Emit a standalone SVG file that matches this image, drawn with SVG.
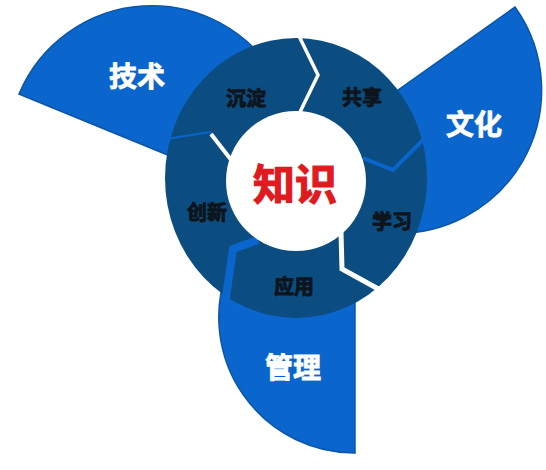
<svg xmlns="http://www.w3.org/2000/svg" width="546" height="470" viewBox="0 0 546 470">
<style>
.blade{fill:#0a66cc;stroke:#0a55aa;stroke-width:1.5}
.ring{fill:#0b4d80}
.big{font-family:"Noto Sans CJK SC","Noto Sans",sans-serif;font-weight:bold;font-size:28px;fill:#ffffff;stroke:#ffffff;stroke-width:0.8;text-anchor:middle;dominant-baseline:central}
.seg{font-family:"Noto Sans CJK SC","Noto Sans",sans-serif;font-weight:bold;font-size:20px;fill:#0d141c;stroke:#0d141c;stroke-width:0.9;text-anchor:middle;dominant-baseline:central}
.core{font-family:"Noto Sans CJK SC","Noto Sans",sans-serif;font-weight:bold;font-size:42px;fill:#e01a1f;stroke:#e01a1f;stroke-width:1.2;text-anchor:middle;dominant-baseline:central}
.gw{fill:none;stroke:#ffffff;stroke-linejoin:miter}
.gb{fill:none;stroke:#0a66cc;stroke-linejoin:miter}
</style>
<rect width="546" height="470" fill="#ffffff"/>
<g id="blade-jishu">
<path class="blade" d="M19,94 A144,144 0 0 1 276.7,78 L280,170 L170,156 Z"/>
<text class="big" x="137" y="75">技术</text>
</g>
<g id="blade-wenhua">
<path class="blade" d="M515,7 A143,143 0 0 1 385.5,232.5 L360,160 L370,110 Z"/>
<text class="big" x="474" y="123">文化</text>
</g>
<g id="blade-guanli">
<path class="blade" d="M355,453 A136,136 0 0 1 227,270.5 L300,240 L355,300 Z"/>
<text class="big" x="293" y="366">管理</text>
</g>
<g id="ring">
<ellipse class="ring" cx="296" cy="178" rx="131" ry="140"/>
</g>
<g id="separators">
<polyline class="gw" stroke-width="3.5" points="298,34 318,75 300,112"/>
<polyline class="gb" stroke-width="4" points="363,158 393,170 426,137"/>
<polyline class="gw" stroke-width="5" points="341,232 342,269 382,291"/>
<polyline class="gb" stroke-width="8" points="258,240 233,249 225,304"/>
<polyline class="gb" stroke-width="2" points="166,139 211,132"/>
<polyline class="gw" stroke-width="4" points="211,134 232,161"/>
</g>
<g id="core">
<circle cx="296" cy="181" r="70" fill="#ffffff"/>
<text class="core" x="295" y="181">知识</text>
</g>
<g id="seg-chendian"><text class="seg" x="246" y="97">沉淀</text></g>
<g id="seg-gongxiang"><text class="seg" x="362" y="96">共享</text></g>
<g id="seg-xuexi"><text class="seg" x="392" y="220">学习</text></g>
<g id="seg-yingyong"><text class="seg" x="294" y="285">应用</text></g>
<g id="seg-chuangxin"><text class="seg" x="207" y="211">创新</text></g>
</svg>
